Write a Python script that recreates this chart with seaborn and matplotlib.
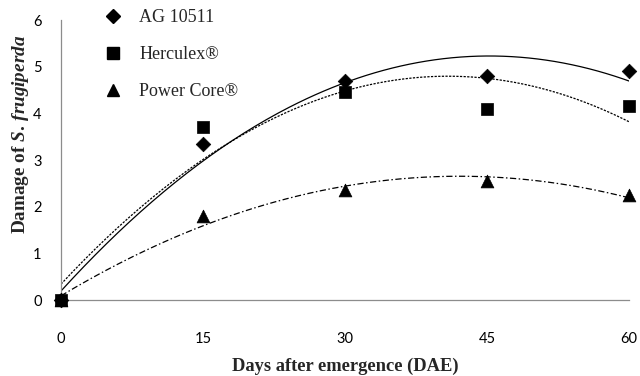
import numpy as np
import pandas as pd
import matplotlib
matplotlib.use("Agg")
import matplotlib.pyplot as plt
from matplotlib.lines import Line2D
import seaborn as sns

# ---- data ----
dae = [0, 15, 30, 45, 60]
cultivars = ["AG 10511", "Herculex®", "Power Core®"]
ag10511 = [0.0, 3.35, 4.7, 4.8, 4.9]
herculex = [0.0, 3.7, 4.45, 4.1, 4.15]
powercore = [0.0, 1.8, 2.35, 2.55, 2.25]
x_ticks = [0, 15, 30, 45, 60]
y_ticks = [0, 1, 2, 3, 4, 5, 6]
x_label = "Days after emergence (DAE)"

df = pd.DataFrame({
    "dae": dae * 3,
    "damage": ag10511 + herculex + powercore,
    "cultivar": sum([[c] * len(dae) for c in cultivars], []),
})

sns.set_style("white")
plt.rcParams["mathtext.fontset"] = "custom"
plt.rcParams["mathtext.rm"] = "Liberation Serif:bold"
plt.rcParams["mathtext.bf"] = "Liberation Serif:bold"
plt.rcParams["mathtext.it"] = "Liberation Serif:italic:bold"

fig = plt.figure(figsize=(6.4, 3.76), dpi=100)
ax = fig.add_axes([61 / 640, 1 - 300 / 376, (629 - 61) / 640, 280 / 376])

markers = {"AG 10511": "D", "Herculex®": "s", "Power Core®": "^"}
msizes = {"AG 10511": 55, "Herculex®": 80, "Power Core®": 85}
dashes = {"AG 10511": "-", "Herculex®": (0, (1.8, 1.1)),
          "Power Core®": (0, (5, 2, 1.2, 2))}

xs = np.linspace(0, 60, 200)
for c in cultivars:
    sub = df[df["cultivar"] == c]
    coef = np.polyfit(sub["dae"], sub["damage"], 2)
    fit = pd.DataFrame({"dae": xs, "damage": np.polyval(coef, xs)})
    sns.lineplot(data=fit, x="dae", y="damage", ax=ax, color="black",
                 lw=0.9, legend=False)
    ax.lines[-1].set_linestyle(dashes[c])
    sns.scatterplot(data=sub, x="dae", y="damage", ax=ax, marker=markers[c],
                    s=msizes[c], color="black", edgecolor="black", linewidth=0.5,
                    clip_on=False, zorder=5, legend=False)

ax.set_xlim(0, 60)
ax.set_ylim(0, 6)
ax.set_xticks(x_ticks)
ax.set_yticks(y_ticks)
for sp in ["top", "right"]:
    ax.spines[sp].set_visible(False)
for sp in ["left", "bottom"]:
    ax.spines[sp].set_color("#8c8c8c")
    ax.spines[sp].set_linewidth(0.9)
ax.tick_params(axis="both", direction="out", color="#8c8c8c", length=5, width=0.9,
               labelsize=10.5, labelcolor="black")
ax.tick_params(axis="x", pad=18)
ax.tick_params(axis="y", pad=9)
for t in ax.get_xticklabels() + ax.get_yticklabels():
    t.set_fontfamily("Lato")

ax.set_xlabel(x_label, fontfamily="Liberation Serif", fontweight="bold", fontsize=13.3)
ax.xaxis.set_label_coords(0.5, -0.205)
ax.set_ylabel(r"$\mathrm{Damage\ of\ }\mathit{S.\,frugiperda}$", fontsize=13.8)
ax.yaxis.set_label_coords(-0.053, 0.59)

handles = [Line2D([], [], ls="none", marker=markers[c], color="black",
                  markersize={"AG 10511": 7.5, "Herculex®": 9, "Power Core®": 9}[c])
           for c in cultivars]
ax.legend(handles, cultivars, loc="upper left", bbox_to_anchor=(104 / 640, 1 - 9 / 376),
          bbox_transform=fig.transFigure, frameon=False, borderpad=0, borderaxespad=0,
          handlelength=0.95, handletextpad=1.0, labelspacing=1.12,
          prop={"family": "Liberation Serif", "size": 13})

fig.savefig("out.png", dpi=100)
